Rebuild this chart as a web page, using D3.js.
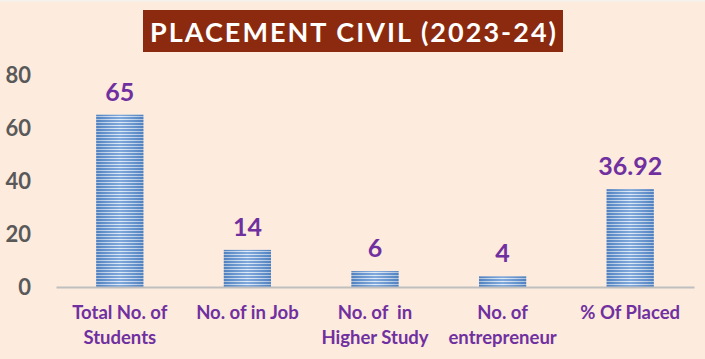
<!DOCTYPE html>
<html><head><meta charset="utf-8">
<script src="https://cdn.jsdelivr.net/npm/d3@7"></script>
<style>html,body{margin:0;padding:0;background:#FDEBDD;}svg{display:block;}</style>
</head><body>
<svg id="chart" width="705" height="359"></svg>
<script>
const title = "PLACEMENT CIVIL (2023-24)";
const categories = [["Total No. of","Students"],["No. of in Job"],["No. of  in","Higher Study"],["No. of","entrepreneur"],["% Of Placed"]];
const values = [65, 14, 6, 4, 36.92];
const valueLabels = ["65","14","6","4","36.92"];
const yTicks = [0, 20, 40, 60, 80];

const svg = d3.select("#chart");
const W = 705, H = 359;
svg.append("rect").attr("width", W).attr("height", H).attr("fill", "#FDEBDD");
svg.append("rect").attr("width", W).attr("height", 2).attr("fill", "#F6F0EB");

const defs = svg.append("defs");
const pat = defs.append("pattern").attr("id","stripes").attr("patternUnits","userSpaceOnUse")
  .attr("width", 8).attr("height", 3);
pat.append("rect").attr("width",8).attr("height",3).attr("fill","#D9E6F6");
pat.append("rect").attr("width",8).attr("height",2).attr("fill","#5F92D2");
const grad = defs.append("linearGradient").attr("id","shade").attr("x1","0").attr("x2","1").attr("y1","0").attr("y2","0");
grad.append("stop").attr("offset","0").attr("stop-color","#1F4E8C").attr("stop-opacity",0.25);
grad.append("stop").attr("offset","0.5").attr("stop-color","#ffffff").attr("stop-opacity",0.2);
grad.append("stop").attr("offset","1").attr("stop-color","#1F4E8C").attr("stop-opacity",0.25);

const x = d3.scaleBand().domain(d3.range(values.length)).range([56, 694]).paddingInner(0.63).paddingOuter(0.315);
const y = d3.scaleLinear().domain([0, 80]).range([287, 75]);

// title
const tg = svg.append("g");
tg.append("rect").attr("x",143).attr("y",10).attr("width",420).attr("height",42).attr("fill","#8B2A0E");
tg.append("text").attr("x",353).attr("y",42).attr("text-anchor","middle")
  .attr("font-family","Lato, 'Open Sans', sans-serif").attr("font-weight","bold").attr("font-size",27)
  .attr("fill","#ffffff").attr("textLength",406).attr("lengthAdjust","spacing").text(title);

// y axis labels
const yAxis = d3.axisLeft(y).tickValues(yTicks).tickSize(0).tickPadding(0);
const ya = svg.append("g").attr("transform","translate(31,0)").call(yAxis);
ya.select(".domain").remove();
ya.selectAll("text").attr("font-family","Lato, sans-serif").attr("font-weight","bold").attr("font-size",22)
  .attr("fill","#595959").attr("dy","0.35em");

// bars
const bars = svg.append("g");
bars.selectAll("rect.bar").data(values).join("rect").attr("class","bar")
  .attr("x",(d,i)=>x(i)).attr("width",x.bandwidth())
  .attr("y",d=>y(d)).attr("height",d=>y(0)-y(d)).attr("fill","url(#stripes)");
bars.selectAll("rect.shade").data(values).join("rect").attr("class","shade")
  .attr("x",(d,i)=>x(i)).attr("width",x.bandwidth())
  .attr("y",d=>y(d)).attr("height",d=>y(0)-y(d)).attr("fill","url(#shade)");

// x axis line
const xAxis = d3.axisBottom(x).tickSize(0).tickFormat("");
const xa = svg.append("g").attr("transform","translate(0,287)").call(xAxis);
xa.select(".domain").attr("stroke","#BFBFBF").attr("stroke-width",2);

// value labels
svg.append("g").selectAll("text").data(values).join("text")
  .attr("x",(d,i)=>x(i)+x.bandwidth()/2).attr("y",d=>y(d)-14)
  .attr("text-anchor","middle").attr("font-family","Lato, sans-serif").attr("font-weight","bold")
  .attr("font-size",25).attr("fill","#7030A0").text((d,i)=>valueLabels[i]);

// category labels
const cg = svg.append("g").selectAll("text").data(categories).join("text")
  .attr("x",(d,i)=>x(i)+x.bandwidth()/2).attr("y",319)
  .attr("text-anchor","middle").attr("font-family","Lato, sans-serif").attr("font-weight","bold")
  .attr("font-size",18.5).attr("fill","#7030A0").style("white-space","pre");
cg.each(function(d,i){
  const t = d3.select(this);
  d.forEach((line,j)=>{
    t.append("tspan").attr("x", x(i)+x.bandwidth()/2).attr("dy", j===0?0:25).text(line);
  });
});
</script>
</body></html>
